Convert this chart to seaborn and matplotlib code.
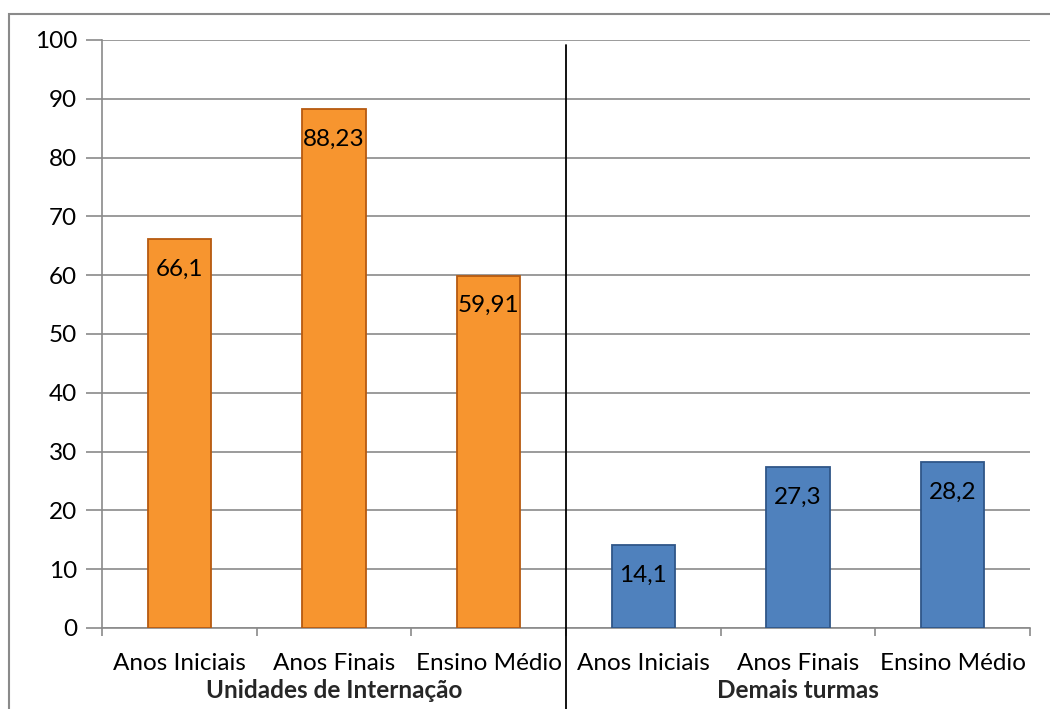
import matplotlib
matplotlib.use("Agg")
import matplotlib.pyplot as plt
import seaborn as sns
import pandas as pd
from matplotlib.ticker import FixedLocator, NullFormatter
from matplotlib.patches import Rectangle

groups = ["Unidades de Internação", "Demais turmas"]
levels = ["Anos Iniciais", "Anos Finais", "Ensino Médio"]
uni_values = [66.1, 88.23, 59.91]
dem_values = [14.1, 27.3, 28.2]
uni_labels = ["66,1", "88,23", "59,91"]
dem_labels = ["14,1", "27,3", "28,2"]

keys = [f"{g}|{l}" for g in groups for l in levels]
df = pd.DataFrame({
    "key": keys,
    "group": [g for g in groups for _ in levels],
    "value": uni_values + dem_values,
    "label": uni_labels + dem_labels,
})

sns.set_theme(style="white")
plt.rcParams['font.family'] = ['Lato', 'DejaVu Sans']

FS = 17.5

fig = plt.figure(figsize=(10.5, 7.09), dpi=100)
ax = fig.add_axes([102/1050, 1-628/709, 928/1050, 588/709])

palette = {groups[0]: "#F7952F", groups[1]: "#4F81BD"}
edges = {groups[0]: "#B65A10", groups[1]: "#2F5688"}
sns.barplot(data=df, x="key", y="value", hue="group", palette=palette,
            dodge=False, width=0.41, legend=False, ax=ax, saturation=1, zorder=3)

bars = sorted([p for p in ax.patches if p.get_height() > 0], key=lambda p: p.get_x())
for p, (_, row) in zip(bars, df.iterrows()):
    p.set_edgecolor(edges[row["group"]])
    p.set_linewidth(1.3)
    cx = p.get_x() + p.get_width() / 2
    ax.annotate(row["label"], (cx, p.get_height()), xytext=(0, -30),
                textcoords="offset pixels",
                ha="center", va="center", fontsize=FS, color="black", zorder=5)

ax.set_ylim(0, 100)
ax.set_xlim(-0.5, 5.5)
ax.set_yticks(range(0, 101, 10))
ax.yaxis.grid(True, color="#8a8a8a", linewidth=1.2, zorder=0)
ax.xaxis.grid(False)
ax.tick_params(axis="y", labelsize=FS, length=11.5, width=1.2, color="#8a8a8a",
               left=True, pad=6.5, labelcolor="black")
for s in ["top", "right"]:
    ax.spines[s].set_visible(False)
for s in ["left", "bottom"]:
    ax.spines[s].set_color("#8a8a8a")
    ax.spines[s].set_linewidth(1.2)

ax.xaxis.set_major_locator(FixedLocator([i - 0.5 for i in range(7)]))
ax.xaxis.set_major_formatter(NullFormatter())
ax.xaxis.set_minor_locator(FixedLocator(list(range(6))))
ax.set_xticklabels(levels * 2, minor=True)
ax.tick_params(axis="x", which="major", length=6, width=1.2, color="#8a8a8a", bottom=True)
ax.tick_params(axis="x", which="minor", length=0, labelsize=FS, pad=18, labelcolor="black")
ax.set_xlabel("")
ax.set_ylabel("")

ax.text(1, -0.1056, groups[0], transform=ax.get_xaxis_transform(), ha="center",
        va="center", fontsize=FS, fontweight="bold")
ax.text(4, -0.1056, groups[1], transform=ax.get_xaxis_transform(), ha="center",
        va="center", fontsize=FS, fontweight="bold")

ax.plot([2.5, 2.5], [0.992, -0.2], transform=ax.get_xaxis_transform(),
        color="black", linewidth=1.3, clip_on=False, zorder=6)

fig.patches.append(Rectangle((9/1050, -0.01), 1.0, 1 - 14/709 + 0.01,
                             transform=fig.transFigure, fill=False,
                             edgecolor="#8a8a8a", linewidth=1.5))

fig.savefig("out.png", dpi=100)
